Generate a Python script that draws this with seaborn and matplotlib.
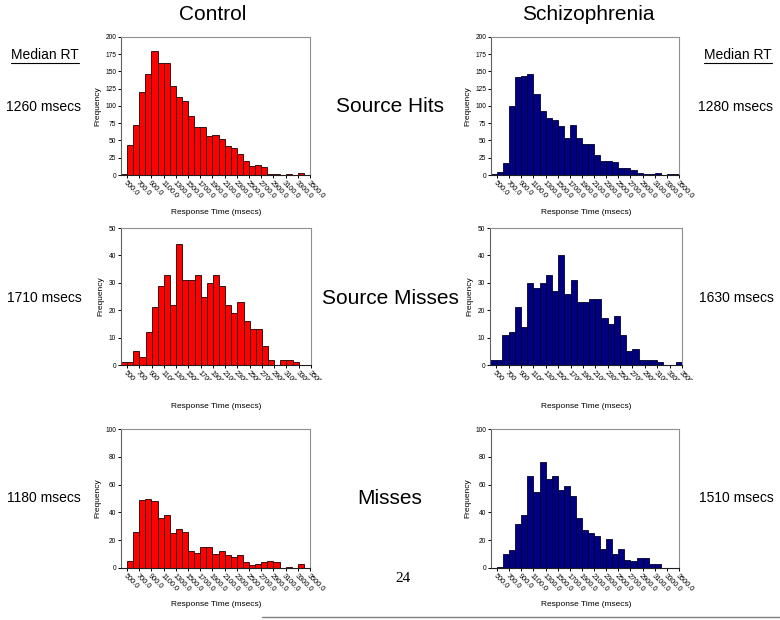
import matplotlib
matplotlib.use('Agg')
import matplotlib.pyplot as plt
import seaborn as sns
from matplotlib.lines import Line2D
from matplotlib.transforms import Bbox

# 100 msec bins from 400 to 3500
bin_edges = list(range(400, 3600, 100))
bin_mids = [e + 50 for e in bin_edges[:-1]]
tick_values = list(range(500, 3600, 200))

groups = ['Control', 'Schizophrenia']
conditions = ['Source Hits', 'Source Misses', 'Misses']

control_hits = [2, 44, 73, 121, 146, 179, 162, 162, 129, 113, 107, 85, 70, 69, 56, 58,
                52, 42, 39, 31, 21, 13, 14, 11, 2, 2, 0, 1, 0, 3, 0]
schizo_hits = [1, 5, 18, 100, 142, 143, 147, 118, 93, 82, 79, 71, 54, 73, 54, 45,
               45, 29, 21, 21, 19, 10, 10, 7, 3, 2, 2, 3, 0, 1, 1]
control_source_misses = [1, 1, 5, 3, 12, 21, 29, 33, 22, 44, 31, 31, 33, 25, 30, 33,
                         29, 22, 19, 23, 16, 13, 13, 7, 2, 0, 2, 2, 1, 0, 0]
schizo_source_misses = [2, 2, 11, 12, 21, 14, 30, 28, 30, 33, 27, 40, 26, 31, 23, 23,
                        24, 24, 17, 15, 18, 11, 5, 6, 2, 2, 2, 1, 0, 0, 1]
control_misses = [0, 5, 26, 49, 50, 48, 36, 38, 25, 28, 26, 12, 11, 15, 15, 10,
                  12, 9, 8, 9, 4, 2, 3, 4, 5, 4, 0, 1, 0, 3, 0]
schizo_misses = [0, 1, 10, 13, 32, 38, 66, 55, 76, 64, 66, 56, 59, 52, 36, 27,
                 25, 23, 14, 21, 10, 14, 6, 5, 7, 7, 3, 3, 0, 0, 0]

control_medians = ['1260 msecs', '1710 msecs', '1180 msecs']
schizo_medians = ['1280 msecs', '1630 msecs', '1510 msecs']

y_max = [200, 50, 100]
y_step = [25, 10, 20]

W, H = 780, 620
sns.set_style('white')
plt.rcParams['font.family'] = ['Liberation Sans', 'DejaVu Sans']
for key in ['text.color', 'axes.labelcolor', 'xtick.color', 'ytick.color']:
    plt.rcParams[key] = 'black'

fig = plt.figure(figsize=(W / 100, H / 100), dpi=100)


def px_text(x, y, s, **kw):
    fig.text(x / W, 1 - y / H, s, ha='center', va='center', **kw)


# axes boxes in pixels: (left, top, right, bottom)
boxes = {
    (0, 0): (121, 37, 310, 175), (0, 1): (491, 37, 679, 175),
    (1, 0): (121, 228, 311, 365), (1, 1): (490, 228, 682, 365),
    (2, 0): (121, 429, 310, 568), (2, 1): (491, 429, 679, 568),
}
data = {
    (0, 0): control_hits, (0, 1): schizo_hits,
    (1, 0): control_source_misses, (1, 1): schizo_source_misses,
    (2, 0): control_misses, (2, 1): schizo_misses,
}
colors = ['#ff0000', '#000080']
edges = ['#200000', '#000030']

for (row, col), counts in data.items():
    l, t, r, b = boxes[(row, col)]
    ax = fig.add_axes([l / W, 1 - b / H, (r - l) / W, (b - t) / H])
    sns.histplot(x=bin_mids, weights=counts, bins=bin_edges, color=colors[col],
                 edgecolor=edges[col], linewidth=0.6, alpha=1, ax=ax)
    ax.set_xlim(400, 3500)
    ax.set_ylim(0, y_max[row])
    ax.set_yticks(range(0, y_max[row] + 1, y_step[row]))
    ax.set_xticks(tick_values)
    ax.set_xticklabels([f'{v}.0' for v in tick_values], rotation=-45,
                       ha='left', va='top', rotation_mode='anchor')
    ax.tick_params(axis='y', labelsize=4.8)
    ax.tick_params(axis='x', labelsize=5.3)
    ax.tick_params(axis='both', length=2, width=0.7, pad=1.5,
                   direction='out', bottom=True, left=True)
    ax.set_xlabel('')
    ax.set_ylabel('Frequency', fontsize=6, labelpad=3)
    for side in ['top', 'right']:
        ax.spines[side].set_color('#909090')
    ax.spines['left'].set_color('#606060')
    ax.spines['bottom'].set_color('#202020')
    for sp in ax.spines.values():
        sp.set_linewidth(0.8)
    if row == 1:
        # tick labels in the middle row are cut off just below the axis
        clip = Bbox([[0, H - b - 15], [W, H - b]])
        for lab in ax.get_xticklabels():
            lab.set_clip_on(True)
            lab.set_clip_box(clip)

# x axis titles under each chart
for y in [213, 406, 604]:
    px_text(216, y, 'Response Time (msecs)', fontsize=6)
    px_text(586, y, 'Response Time (msecs)', fontsize=6)

# group titles
px_text(213, 14, groups[0], fontsize=15)
px_text(588, 14, groups[1], fontsize=15)

# median RT headers with underline
for cx in [45, 738]:
    px_text(cx, 55, 'Median RT', fontsize=10)
    fig.add_artist(Line2D([(cx - 34) / W, (cx + 34) / W], [1 - 63 / H, 1 - 63 / H],
                          color='black', linewidth=0.8))

row_y = [107, 298, 498]
for i, y in enumerate(row_y):
    px_text(44, y, control_medians[i], fontsize=10)
    px_text(736, y, schizo_medians[i], fontsize=10)
    px_text(390, y, conditions[i], fontsize=15)

# page number and footer rule
fig.text(403 / W, 1 - 578 / H, '24', ha='center', va='center', fontsize=11,
         family=['Liberation Serif', 'DejaVu Serif'])
fig.add_artist(Line2D([262 / W, 1.0], [1 - 617 / H, 1 - 617 / H], color='#808080', linewidth=1))

fig.savefig('out.png', dpi=100, facecolor='white')
